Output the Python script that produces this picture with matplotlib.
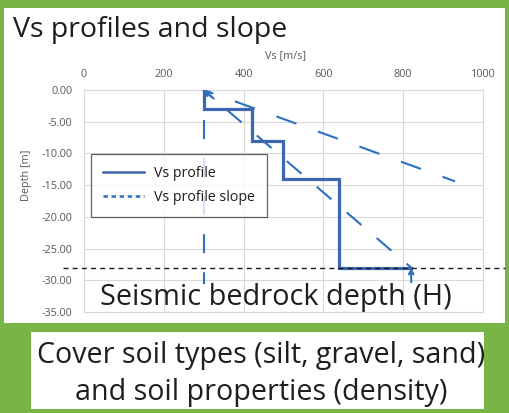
import matplotlib
matplotlib.use("Agg")
import matplotlib.pyplot as plt
from matplotlib.patches import Rectangle
from matplotlib.lines import Line2D

plt.rcParams['font.family'] = ['Open Sans', 'DejaVu Sans']
plt.rcParams['lines.scale_dashes'] = False

# Shear-wave velocity profile (layer velocities and layer boundaries)
profile_vs = [300, 300, 420, 420, 500, 500, 640, 640, 820]
profile_depth = [0, -3, -3, -8, -8, -14, -14, -28, -28]

# Slope lines of the profile
slope_lower_vs = [300, 820]
slope_lower_depth = [0, -28]
slope_upper_vs = [300, 930]
slope_upper_depth = [0, -14.4]
slope_vertical_vs = [300, 300]
slope_vertical_depth = [0, -30.6]

bedrock_depth = -28
x_ticks = [0, 200, 400, 600, 800, 1000]
y_ticks = [0, -5, -10, -15, -20, -25, -30, -35]

GREEN = '#79B546'
SOLID_BLUE = '#3D67B3'
DASH_BLUE = '#2C70BE'
GRID = '#D9D9D9'
TICK_TXT = '#595959'

W, H = 510, 413
fig = plt.figure(figsize=(W / 100, H / 100), dpi=100)
fig.patch.set_facecolor(GREEN)

# white panels
fig.patches.append(Rectangle((4 / W, 1 - 323 / H), 501 / W, 315 / H,
                             transform=fig.transFigure, facecolor='white',
                             edgecolor='none', zorder=-10))
fig.patches.append(Rectangle((31 / W, 1 - 409 / H), 453 / W, 77 / H,
                             transform=fig.transFigure, facecolor='white',
                             edgecolor='none', zorder=-10))

ax = fig.add_axes([84 / W, 1 - 312 / H, 399 / W, 222 / H])
ax.set_zorder(1)
ax.set_facecolor('none')
ax.set_xlim(0, 1000)
ax.set_ylim(-35, 0)
ax.set_xticks(x_ticks)
ax.set_yticks(y_ticks)
ax.set_yticklabels([f"{v:.2f}" for v in y_ticks])
ax.xaxis.tick_top()
ax.tick_params(axis='both', length=0, labelsize=7.8, colors=TICK_TXT)
ax.tick_params(axis='x', pad=7.3)
ax.tick_params(axis='y', pad=8.5)
ax.grid(True, color=GRID, lw=0.8)
ax.set_axisbelow(True)
for s in ax.spines.values():
    s.set_color(GRID)
    s.set_linewidth(0.8)

# slope lines
ax.plot(slope_vertical_vs, slope_vertical_depth, color=DASH_BLUE, lw=1.5,
        linestyle=(5.8, (13.7, 13.7)), dash_capstyle='butt', zorder=3,
        clip_on=False)
ax.plot(slope_lower_vs, slope_lower_depth, color=DASH_BLUE, lw=1.5,
        linestyle=(6.5, (14.0, 14.4)), dash_capstyle='butt', zorder=3)
ax.plot(slope_upper_vs, slope_upper_depth, color=DASH_BLUE, lw=1.5,
        linestyle=(7.9, (15.3, 16.5)), dash_capstyle='butt', zorder=3)

# arrow tips
ax.annotate('', xy=(slope_lower_vs[0], slope_lower_depth[0]),
            xytext=(325, -1.35),
            arrowprops=dict(arrowstyle='->', color=DASH_BLUE, lw=1.5,
                            mutation_scale=8, shrinkA=0, shrinkB=0), zorder=4)
ax.annotate('', xy=(profile_vs[-1], bedrock_depth), xytext=(profile_vs[-1], -30.3),
            arrowprops=dict(arrowstyle='->', color=DASH_BLUE, lw=1.5,
                            mutation_scale=8, shrinkA=0, shrinkB=0),
            annotation_clip=False, zorder=4)

# step profile
ax.plot(profile_vs, profile_depth, color=SOLID_BLUE, lw=2.3, zorder=5,
        solid_joinstyle='miter')

# bedrock depth line
ax.plot([-53, 1055], [bedrock_depth, bedrock_depth], color='#1a1a1a', lw=1.0,
        linestyle=(0, (3.6, 3.0)), clip_on=False, zorder=6)

ax.text(40, -33.9, 'Seismic bedrock depth (H)', fontsize=20.8,
        color='#1e1e1e', va='baseline', ha='left', zorder=7)

# legend
handles = [Line2D([], [], color=SOLID_BLUE, lw=1.8),
           Line2D([], [], color=DASH_BLUE, lw=1.8, linestyle=(0, (3.2, 2.6)))]
leg = ax.legend(handles, ['Vs profile', 'Vs profile slope'],
                loc='upper left', bbox_to_anchor=(0.0175, 0.712),
                fontsize=10.2, frameon=True, fancybox=False,
                handlelength=2.9, handletextpad=0.7, labelspacing=0.62,
                borderpad=0.85, borderaxespad=0)
leg.get_frame().set_edgecolor('#3a3a3a')
leg.get_frame().set_linewidth(0.9)
leg.set_zorder(8)
for t in leg.get_texts():
    t.set_color('#1e1e1e')

fig.text(13 / W, 1 - 37 / H, 'Vs profiles and slope', fontsize=20.5,
         color='#1e1e1e', va='baseline', ha='left')
fig.text(286 / W, 1 - 56 / H, 'Vs [m/s]', fontsize=7.8, color=TICK_TXT,
         ha='center', va='center')
fig.text(27 / W, 1 - 175 / H, 'Depth [m]', fontsize=7.8, color=TICK_TXT,
         ha='center', va='center', rotation=90)

fig.text(261 / W, 1 - 363 / H, 'Cover soil types (silt, gravel, sand)',
         fontsize=20.6, color='#1e1e1e', ha='center', va='baseline')
fig.text(261 / W, 1 - 400 / H, 'and soil properties (density)',
         fontsize=20.6, color='#1e1e1e', ha='center', va='baseline')

fig.savefig('out.png', dpi=100, facecolor=GREEN)
